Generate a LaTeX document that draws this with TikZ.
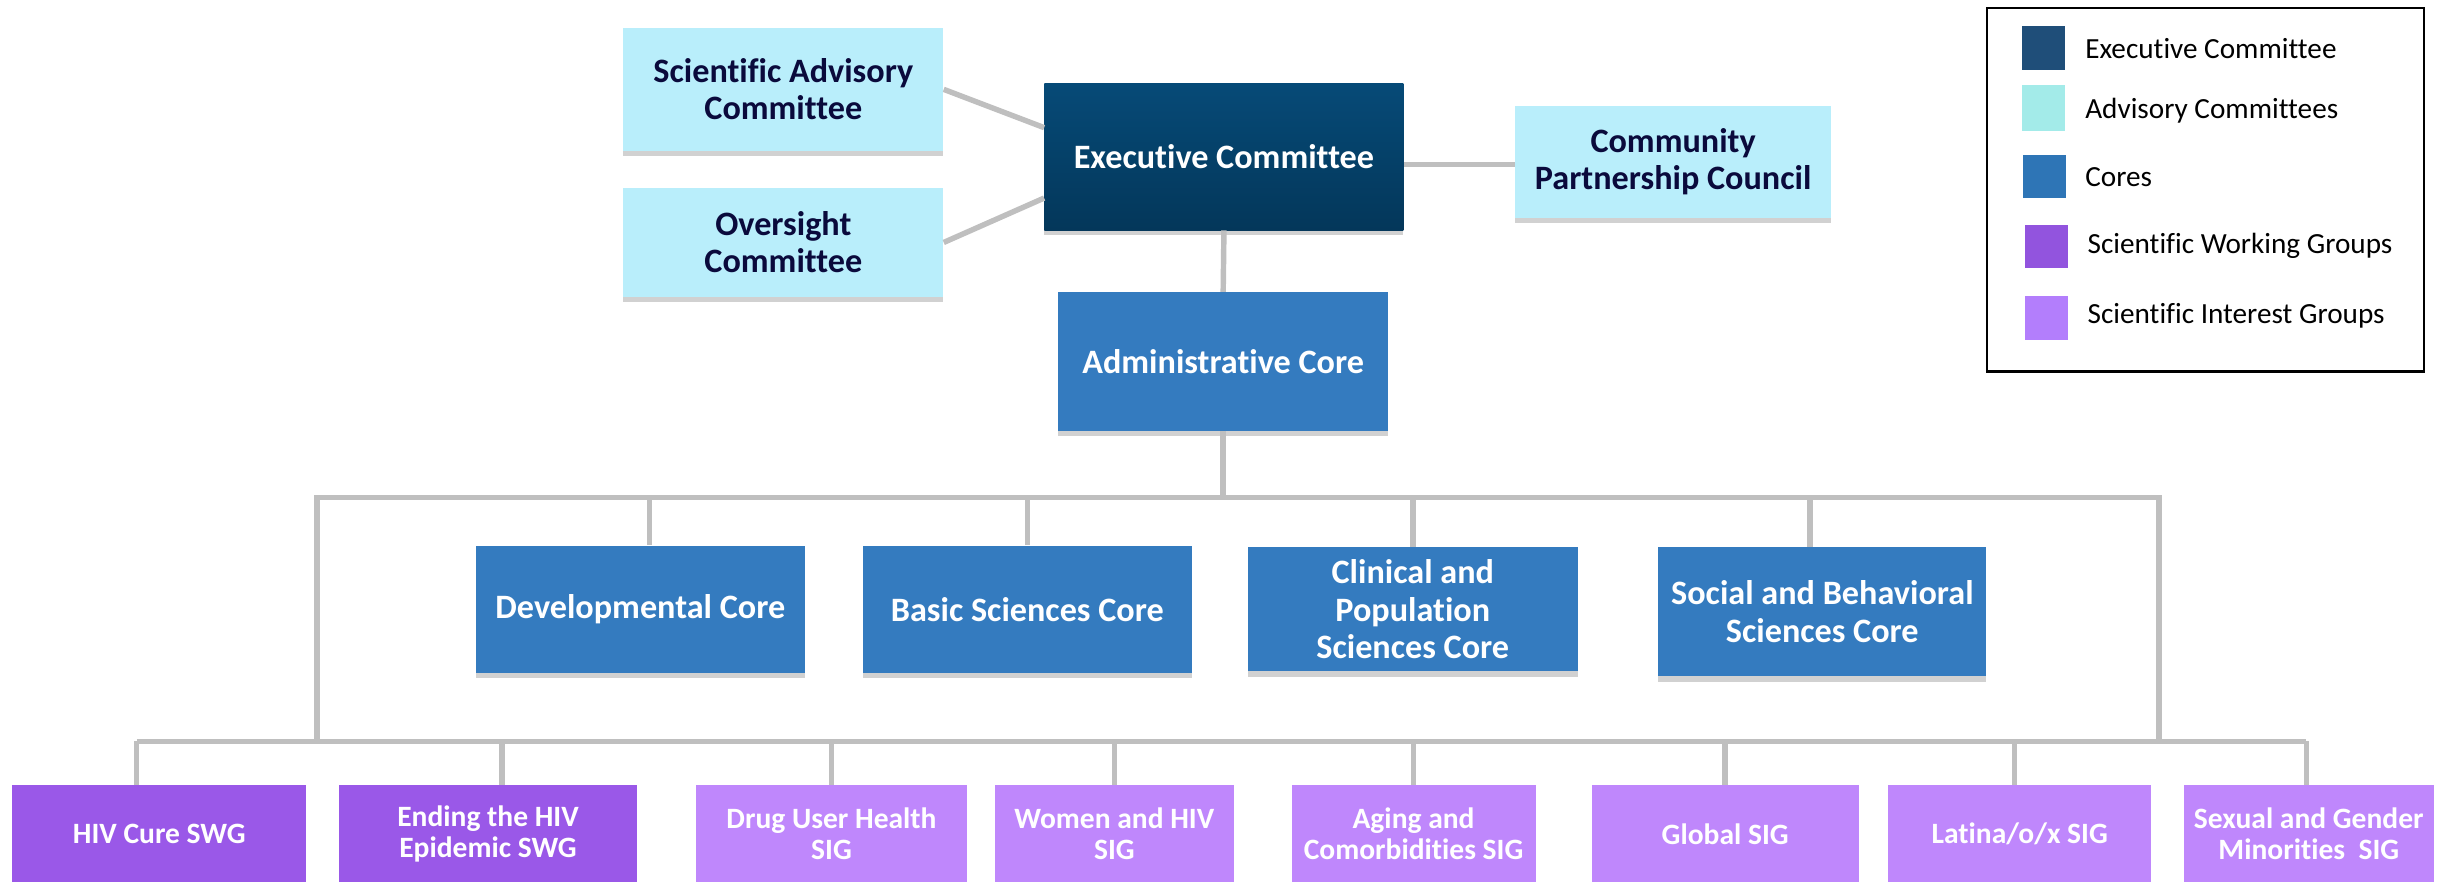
\documentclass[tikz,border=0pt]{standalone}
\usepackage{fontspec}
\setmainfont{Carlito}[Ligatures=NoCommon]
\usetikzlibrary{shadows,calc}
\definecolor{exctop}{HTML}{064A77}
\definecolor{excbot}{HTML}{04375A}
\definecolor{advcol}{HTML}{B9EEFB}
\definecolor{navytext}{HTML}{0A0A3C}
\definecolor{corecol}{HTML}{347BBF}
\definecolor{swgcol}{HTML}{9A58E8}
\definecolor{sigcol}{HTML}{BF87FC}
\definecolor{linecol}{HTML}{BFBFBF}
\definecolor{lgexec}{HTML}{1F4E79}
\definecolor{lgadv}{HTML}{A3EBE9}
\definecolor{lgcore}{HTML}{2E75B6}
\definecolor{lgswg}{HTML}{9254DE}
\definecolor{lgsig}{HTML}{B37EFC}
\begin{document}
\begin{tikzpicture}[x=1pt,y=-1pt,
  box/.style={rectangle, inner sep=2pt, align=center,
    font=\bfseries\fontsize{22}{24}\selectfont,
    drop shadow={shadow xshift=0pt,shadow yshift=-3.5pt,opacity=0.18,fill=black}},
  adv/.style={box, fill=advcol, text=navytext},
  exc/.style={box, top color=exctop, bottom color=excbot, text=white},
  core/.style={box, fill=corecol, text=white},
  swg/.style={box, fill=swgcol, text=white, font=\bfseries\fontsize{19}{20}\selectfont},
  sig/.style={swg, fill=sigcol},
  conn/.style={draw=linecol, line width=3.5pt},
  swatch/.style={rectangle, inner sep=0pt, minimum width=27.5pt, minimum height=28pt},
  lgtext/.style={anchor=west, inner sep=0pt, font=\fontsize{18.8}{20}\selectfont, text=black}
]
\useasboundingbox (0,0) rectangle (1568,567);

% top level
\node[adv, minimum width=206pt, minimum height=79pt] (SAC) at (504,57.5) {Scientific Advisory\\Committee};
\node[adv, minimum width=206pt, minimum height=70pt] (OC) at (504,156) {Oversight\\Committee};
\node[exc, minimum width=231pt, minimum height=94pt] (EC) at (787.5,101) {Executive Committee};
\node[adv, minimum width=203pt, minimum height=72pt] (CPC) at (1076.5,104) {Community\\Partnership Council};
\node[core, minimum width=212pt, minimum height=89pt] (AC) at (787,232.5) {Administrative Core};

% cores
\node[core, minimum width=212pt, minimum height=82pt] (Dev) at (412,392) {Developmental Core};
\node[core, minimum width=212pt, minimum height=82pt] (Basic) at (661,392) {Basic Sciences Core};
\node[core, minimum width=212pt, minimum height=80pt] (Clin) at (909,392) {Clinical and\\Population\\Sciences Core};
\node[core, minimum width=211pt, minimum height=83pt] (Soc) at (1172.5,393.5) {Social and Behavioral\\Sciences Core};

% groups
\node[swg, minimum width=189pt, minimum height=63pt] (G1) at (102.5,536.5) {HIV Cure SWG};
\node[swg, minimum width=192pt, minimum height=63pt] (G2) at (314,536.5) {Ending the HIV\\Epidemic SWG};
\node[sig, minimum width=174pt, minimum height=63pt] (G3) at (535,536.5) {Drug User Health\\SIG};
\node[sig, minimum width=154pt, minimum height=63pt] (G4) at (717,536.5) {Women and HIV\\SIG};
\node[sig, minimum width=157pt, minimum height=63pt] (G5) at (909.5,536.5) {Aging and\\Comorbidities SIG};
\node[sig, minimum width=172pt, minimum height=63pt] (G6) at (1110,536.5) {Global SIG};
\node[sig, minimum width=169pt, minimum height=63pt] (G7) at (1299.5,536.5) {Latina/o/x SIG};
\node[sig, minimum width=161pt, minimum height=63pt] (G8) at (1485.5,536.5) {Sexual and Gender\\Minorities~ SIG};

% connectors
\coordinate (b1L) at (204,320);
\coordinate (b1R) at (1389,320);
\coordinate (b2L) at (88,477);
\coordinate (b2R) at (1484,477);

\draw[conn] (SAC.east) -- ($(EC.north west)!0.3!(EC.south west)$);
\draw[conn] (OC.east) -- ($(EC.north west)!0.78!(EC.south west)$);
\draw[conn] (EC.east |- 0,106) -- (CPC.west |- 0,106);
\draw[conn] (EC.south) -- (AC.north);
\draw[conn] (AC.south) -- (AC.south |- b1L);
\draw[conn] (b1L |- b2L) -- (b1L) -- (b1R) -- (b1R |- b2L);
\draw[conn] ([xshift=6pt]Dev.north) -- ([xshift=6pt]Dev.north |- b1L);
\draw[conn] (Basic.north) -- (Basic.north |- b1L);
\draw[conn] (Clin.north) -- (Clin.north |- b1L);
\draw[conn] ([xshift=-8pt]Soc.north) -- ([xshift=-8pt]Soc.north |- b1L);
\draw[conn] (b2L) -- (b2R);
\draw[conn] (b2L) -- (b2L |- G1.north);
\draw[conn] ([xshift=9pt]G2.north) -- ([xshift=9pt]G2.north |- b2L);
\foreach \n in {G3,G4,G5,G6} \draw[conn] (\n.north) -- (\n.north |- b2L);
\draw[conn] ([xshift=-3.5pt]G7.north) -- ([xshift=-3.5pt]G7.north |- b2L);
\draw[conn] (b2R) -- (b2R |- G8.north);

% legend
\node[draw=black, line width=1.5pt, minimum width=281pt, minimum height=234pt, inner sep=0pt] (legend) at (1419,122) {};
\node[swatch, fill=lgexec] (s1) at (1315,31) {};
\node[swatch, fill=lgadv, minimum height=29.5pt] (s2) at (1315,69.5) {};
\node[swatch, fill=lgcore] (s3) at (1315.5,113.5) {};
\node[swatch, fill=lgswg] (s4) at (1316.5,158.5) {};
\node[swatch, fill=lgsig] (s5) at (1316.5,204.5) {};
\node[lgtext] (t1) at (1341.5,31) {Executive Committee};
\node[lgtext] (t2) at (1341.5,71) {Advisory Committees};
\node[lgtext] (t3) at (1341.5,114) {Cores};
\node[lgtext] (t4) at (1343,158) {Scientific Working Groups};
\node[lgtext] (t5) at (1343,203) {Scientific Interest Groups};
\end{tikzpicture}
\end{document}
